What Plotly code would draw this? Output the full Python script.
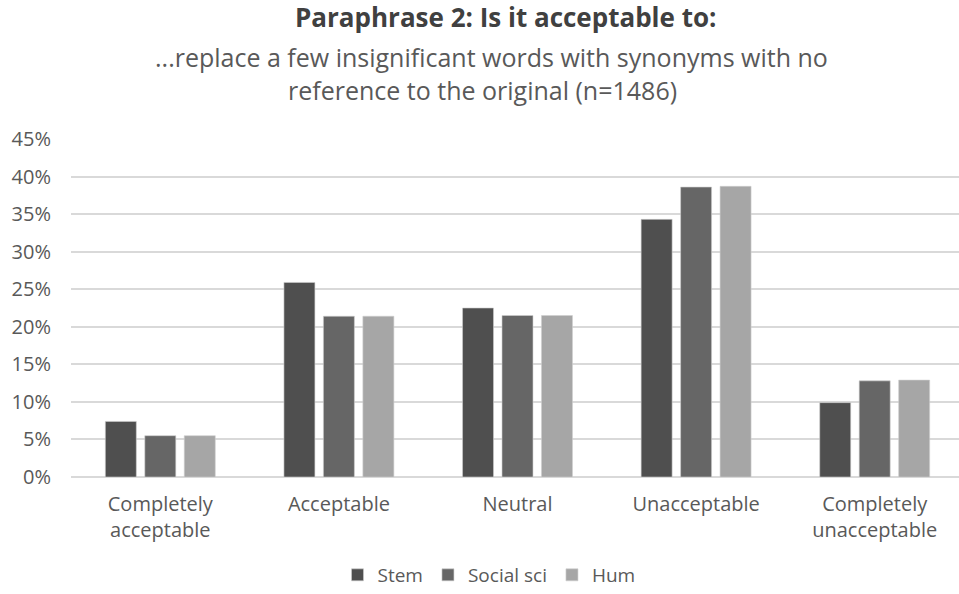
import plotly.graph_objects as go

categories = ["Completely<br>acceptable", "Acceptable", "Neutral", "Unacceptable", "Completely<br>unacceptable"]
stem = [7.4, 25.9, 22.5, 34.3, 9.9]
social_sci = [5.5, 21.4, 21.5, 38.6, 12.8]
hum = [5.5, 21.4, 21.5, 38.7, 12.9]
series_names = ["Stem", "Social sci", "Hum"]
colors = ["#4f4f4f", "#666666", "#a6a6a6"]
y_ticks = [0, 5, 10, 15, 20, 25, 30, 35, 40, 45]

FONT = "Open Sans, DejaVu Sans, sans-serif"
W, H = 959, 594
L, R, T, B = 71, 0, 139, 117

fig = go.Figure()
for name, vals, col in zip(series_names, [stem, social_sci, hum], colors):
    fig.add_trace(go.Bar(
        x=list(range(len(categories))), y=vals, name=name,
        marker=dict(color=col, line=dict(color="#cfcfcf", width=0.6)),
    ))

plot_w = W - L - R
plot_h = H - T - B
def ypaper(py):
    return (H - B - py) / plot_h
def xpaper(px):
    return (px - L) / plot_w

fig.update_layout(
    template="none",
    width=W, height=H,
    margin=dict(l=L, r=R, t=T, b=B, autoexpand=False),
    paper_bgcolor="white", plot_bgcolor="white",
    barmode="group", bargap=0.337, bargroupgap=0.215,
    font=dict(family=FONT, color="#595959", size=19),
    showlegend=True,
    legend=dict(orientation="h", x=xpaper(489), xanchor="center", y=ypaper(594), yanchor="bottom",
                font=dict(size=19, color="#595959"), traceorder="normal", bgcolor="rgba(0,0,0,0)",
                tracegroupgap=0),
    xaxis=dict(
        tickmode="array", tickvals=list(range(len(categories))), ticktext=categories,
        range=[-0.5, 4.472], showgrid=False, zeroline=False, automargin=False,
        showline=False, ticks="", ticklabelstandoff=13,
        tickfont=dict(size=20, color="#595959"),
    ),
    yaxis=dict(
        range=[0, 45], tickmode="array", tickvals=y_ticks,
        ticktext=[f"{v}%" for v in y_ticks], automargin=False,
        showgrid=True, gridcolor="#d9d9d9", gridwidth=1.5,
        zeroline=True, zerolinecolor="#d9d9d9", zerolinewidth=1.5,
        showline=False, ticks="", ticklabelstandoff=19,
        tickfont=dict(size=20, color="#595959"),
    ),
    annotations=[
        dict(text="<b>Paraphrase 2: Is it acceptable to:</b>", x=xpaper(505), y=ypaper(17),
             xref="paper", yref="paper", xanchor="center", yanchor="middle", showarrow=False,
             font=dict(size=26, color="#404040")),
        dict(text="...replace a few insignificant words with synonyms with no", x=xpaper(491), y=ypaper(57),
             xref="paper", yref="paper", xanchor="center", yanchor="middle", showarrow=False,
             font=dict(size=25, color="#595959")),
        dict(text="reference to the original (n=1486)", x=xpaper(482), y=ypaper(90),
             xref="paper", yref="paper", xanchor="center", yanchor="middle", showarrow=False,
             font=dict(size=25, color="#595959")),
    ],
)

fig.write_html("out.html", config={"displayModeBar": False},
               post_script="document.body.style.margin='0';document.body.style.padding='0';")
